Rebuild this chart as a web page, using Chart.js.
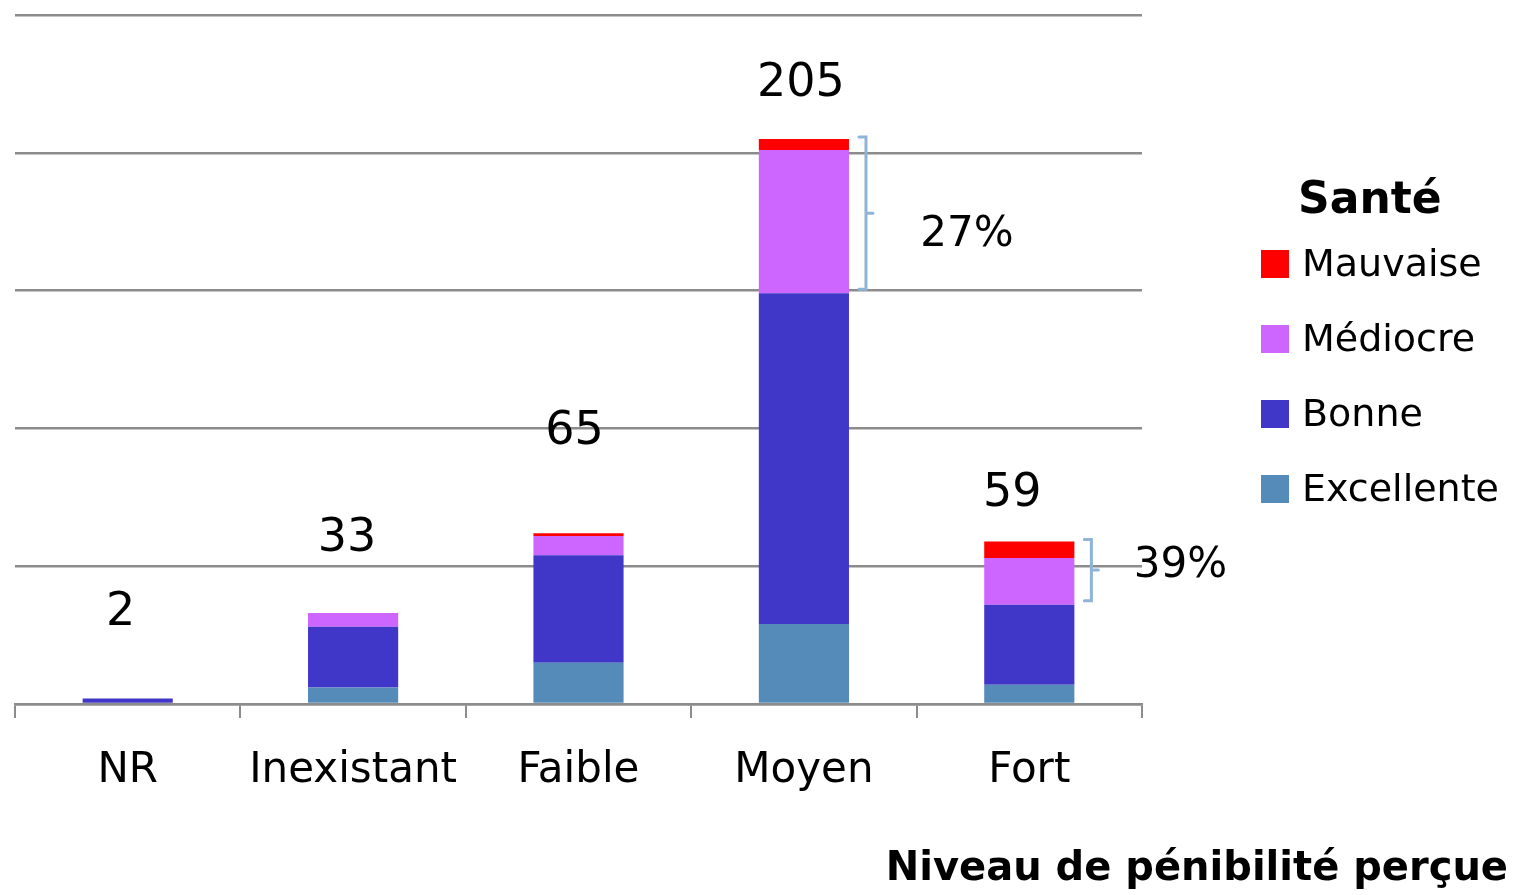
<!DOCTYPE html>
<html>
<head>
<meta charset="utf-8">
<script src="https://cdn.jsdelivr.net/npm/chart.js@4/dist/chart.umd.min.js"></script>
<style>
html,body{margin:0;padding:0;background:#fff;}
canvas{display:block;}
</style>
</head>
<body>
<canvas id="c" width="1513" height="895"></canvas>
<script>
// ---- data ----
const categories = ['NR', 'Inexistant', 'Faible', 'Moyen', 'Fort'];
const excellente = [0, 6, 15, 29, 7];
const bonne      = [2, 22, 39, 120, 29];
const mediocre   = [0, 5, 7, 52, 17];
const mauvaise   = [0, 0, 1, 4, 6];
const totals     = [2, 33, 65, 205, 59];
const seriesNames = ['Excellente', 'Bonne', 'Médiocre', 'Mauvaise'];
const legendTitle = 'Santé';
const xTitle = 'Niveau de pénibilité perçue';
const bracketCategories = ['Moyen', 'Fort'];

// ---- styles / layout ----
const colors = ['#548BB9', '#4037C8', '#CC66FF', '#FF0000'];
const FONT = "'DejaVu Sans', sans-serif";
const GRID = '#8C8C8C';
const BRACKET = '#8FB4D6';
const labelOffsets = [[-7, 85], [-6, 74], [-4, 101], [-3, 55], [-17, 47]]; // px from bar top
const pctOffsets = {Moyen: [101, 22], Fort: [89, -4]};

const seriesData = [excellente, bonne, mediocre, mauvaise];

const overlay = {
  id: 'overlay',
  afterDatasetsDraw(chart) {
    const ctx = chart.ctx;
    const y = chart.scales.y;
    const meta = chart.getDatasetMeta(0);
    ctx.save();
    // value labels
    ctx.fillStyle = '#000';
    ctx.font = '46px ' + FONT;
    ctx.textAlign = 'center';
    ctx.textBaseline = 'middle';
    categories.forEach((c, i) => {
      let sum = 0; seriesData.forEach(s => sum += s[i]);
      const bx = meta.data[i].x;
      const top = y.getPixelForValue(sum);
      ctx.fillText(String(totals[i]), bx + labelOffsets[i][0], top - labelOffsets[i][1]);
    });
    // brackets
    bracketCategories.forEach(cat => {
      const i = categories.indexOf(cat);
      const bar = meta.data[i];
      const total = excellente[i] + bonne[i] + mediocre[i] + mauvaise[i];
      const low = excellente[i] + bonne[i];
      const yTop = y.getPixelForValue(total) - 2;
      const yBot = y.getPixelForValue(low) - 4;
      const right = bar.x + bar.width / 2;
      const bx = right + 17;
      const mid = (yTop + yBot) / 2;
      ctx.strokeStyle = BRACKET;
      ctx.lineWidth = 3;
      ctx.lineCap = 'round';
      ctx.beginPath();
      ctx.moveTo(bx - 7, yTop);
      ctx.lineTo(bx, yTop);
      ctx.lineTo(bx, yBot);
      ctx.lineTo(bx - 7, yBot);
      ctx.moveTo(bx, mid);
      ctx.lineTo(bx + 7, mid);
      ctx.stroke();
      const pct = Math.round((mediocre[i] + mauvaise[i]) / total * 100);
      ctx.fillStyle = '#000';
      ctx.font = '42px ' + FONT;
      ctx.textAlign = 'center';
      ctx.textBaseline = 'middle';
      ctx.fillText(pct + '%', bx + pctOffsets[cat][0], mid + pctOffsets[cat][1]);
    });
    // legend
    ctx.textAlign = 'left';
    ctx.textBaseline = 'middle';
    ctx.font = 'bold 44px ' + FONT;
    ctx.fillStyle = '#000';
    ctx.fillText(legendTitle, 1298, 202);
    ctx.font = '38px ' + FONT;
    for (let k = 0; k < 4; k++) {
      const si = 3 - k;
      const cy = 264 + k * 75;
      ctx.fillStyle = colors[si];
      ctx.fillRect(1261, cy - 14, 28, 28);
      ctx.fillStyle = '#000';
      ctx.fillText(seriesNames[si], 1302, cy + 2);
    }
    // x title
    ctx.font = 'bold 40px ' + FONT;
    ctx.textAlign = 'right';
    ctx.fillText(xTitle, 1508, 870);
    ctx.restore();
  }
};

new Chart(document.getElementById('c'), {
  type: 'bar',
  data: {
    labels: categories,
    datasets: seriesNames.map((n, k) => ({
      label: n,
      data: seriesData[k],
      backgroundColor: colors[k],
      borderWidth: 0,
      barPercentage: 0.4,
      categoryPercentage: 1.0
    }))
  },
  options: {
    responsive: false,
    animation: false,
    events: [],
    layout: {padding: {left: 15, right: 371, top: 15, bottom: 0}},
    plugins: {legend: {display: false}, tooltip: {enabled: false}},
    scales: {
      x: {
        stacked: true,
        offset: true,
        grid: {display: true, drawOnChartArea: false, drawTicks: true, tickLength: 14, color: GRID, lineWidth: 2, offset: true},
        border: {display: true, color: GRID, width: 2.5},
        ticks: {color: '#000', font: {family: FONT, size: 42}, padding: 28, maxRotation: 0, autoSkip: false},
        afterFit(scale) { scale.height = 191; }
      },
      y: {
        stacked: true,
        min: 0, max: 250,
        ticks: {display: false, stepSize: 50},
        grid: {color: GRID, lineWidth: 2.5, drawTicks: false},
        border: {display: false}
      }
    }
  },
  plugins: [overlay]
});
</script>
</body>
</html>
